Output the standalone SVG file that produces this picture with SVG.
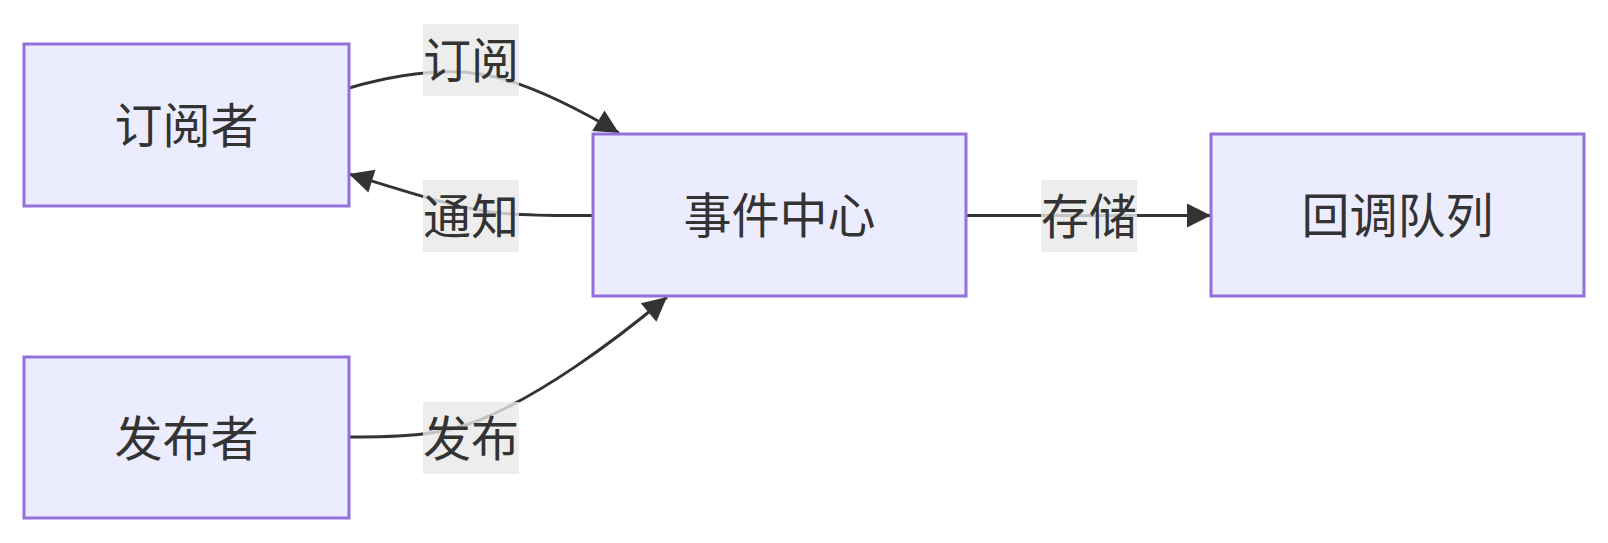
<svg xmlns="http://www.w3.org/2000/svg" width="1608" height="543" viewBox="0 0 1608 543">
<style>
.node rect{fill:#ECECFF;stroke:#9370DB;stroke-width:3;}
.node text,.elabel text{font-family:"Noto Sans CJK SC","Noto Sans",sans-serif;font-size:48px;fill:#333333;text-anchor:middle;dominant-baseline:central;}
.edge{fill:none;stroke:#333333;stroke-width:3;marker-end:url(#arrow);}
.elabel rect{fill:rgba(232,232,232,0.8);}
</style>
<defs>
<marker id="arrow" viewBox="0 0 10 10" refX="10" refY="5" markerWidth="26" markerHeight="24" markerUnits="userSpaceOnUse" orient="auto">
<path d="M0,0 L10,5 L0,10 z" fill="#333333"/>
</marker>
</defs>
<rect width="1608" height="543" fill="#ffffff"/>
<g id="connectors">
<path class="edge" d="M349,88 C395,75 440,68 480,74 C520,80 570,104 619,133"/>
<path class="edge" d="M593,215.5 C560,215.5 530,216 500,213 C460,209 420,196 349,174"/>
<path class="edge" d="M349,437 C400,437 440,436 480,420 C540,395 610,345 667,297"/>
<path class="edge" d="M966,215.5 L1211,215.5"/>
<g class="elabel"><rect x="423" y="24" width="96" height="72"/><text x="471" y="57">订阅</text></g>
<g class="elabel"><rect x="423" y="180" width="96" height="72"/><text x="471" y="213">通知</text></g>
<g class="elabel"><rect x="423" y="402" width="96" height="72"/><text x="471" y="435">发布</text></g>
<g class="elabel"><rect x="1041" y="180" width="96" height="72"/><text x="1089" y="213">存储</text></g>
</g>
<g id="subscriber" class="node"><rect x="24" y="44" width="325" height="162"/><text x="186.5" y="122">订阅者</text></g>
<g id="publisher" class="node"><rect x="24" y="357" width="325" height="161"/><text x="186.5" y="434.5">发布者</text></g>
<g id="eventcenter" class="node"><rect x="593" y="134" width="373" height="162"/><text x="779.5" y="212">事件中心</text></g>
<g id="callbackqueue" class="node"><rect x="1211" y="134" width="373" height="162"/><text x="1397.5" y="212">回调队列</text></g>
</svg>
